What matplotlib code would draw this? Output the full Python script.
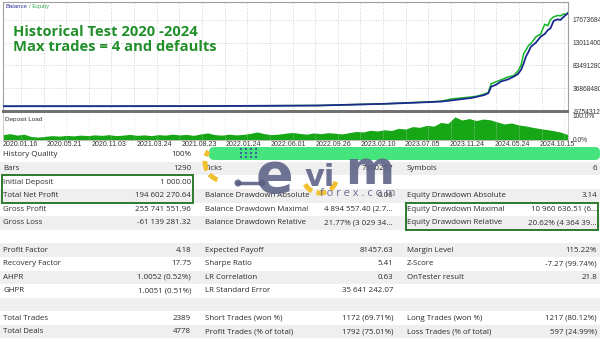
import numpy as np
import matplotlib
matplotlib.use("Agg")
import matplotlib.pyplot as plt
from matplotlib.patches import Rectangle, FancyBboxPatch, Arc, Circle

# x axis is in "date label" units (label k sits at x = k)
date_labels = ['2020.01.16', '2020.05.21', '2020.11.03', '2021.03.24', '2021.08.23',
               '2022.01.24', '2022.06.01', '2022.09.26', '2023.02.10', '2023.07.05',
               '2023.11.24', '2024.05.24', '2024.10.15']

curve_x = [-0.38, 1.88, 4.10, 6.67, 8.16, 8.76, 9.27, 9.42, 9.65, 9.87, 10.09, 10.24,
           10.38, 10.47, 10.53, 10.64, 10.75, 10.91, 11.04, 11.13, 11.20, 11.26, 11.31,
           11.37, 11.42, 11.53, 11.64, 11.73, 11.80, 11.86, 11.93, 12.02, 12.08, 12.15,
           12.20, 12.25]
# millions
balance = [0.001, 0.05, 0.3, 1.5, 5, 7, 9, 9.6, 12, 14.6, 17, 20,
           23, 26.8, 40, 44, 50.6, 55, 60.8, 66, 74.5, 88, 101.7,
           112, 122, 130, 142.6, 148, 156, 160, 175, 178, 176.7, 183,
           187, 190.4]
equity = [0.001, 0.05, 0.3, 1.5, 5, 7.5, 9.5, 10.5, 15, 17, 19, 21,
          25, 28, 46, 50, 54, 60, 63, 72, 84, 108, 115,
          125, 128, 142, 148, 168, 165, 178, 183, 186, 185, 189,
          188, 192]

deposit_load = [22, 26, 20, 24, 14, 12, 15, 18, 16, 19, 17, 20, 18, 21, 19, 22, 18, 20,
                23, 19, 21, 18, 22, 20, 24, 21, 23, 19, 25, 29, 22, 20, 24, 21, 23, 27,
                33, 26, 22, 24, 28, 31, 27, 24, 29, 26, 30, 28, 25, 30, 35, 33, 40, 37,
                42, 39, 48, 45, 55, 52, 60, 57, 72, 68, 95, 82, 88, 80, 86, 83, 74, 66,
                70, 62, 58, 52, 47, 43, 38, 32, 22]

y_tick_values = [-9754312, 36868480, 83491280, 130114000, 176736840]

# report table (14 rows, three label/value columns)
col1_labels = ['History Quality', 'Bars', 'Initial Deposit', 'Total Net Profit', 'Gross Profit',
               'Gross Loss', '', 'Profit Factor', 'Recovery Factor', 'AHPR', 'GHPR', '',
               'Total Trades', 'Total Deals']
col1_values = ['100%', '1290', '1 000.00', '194 602 270.64', '255 741 551.96',
               '-61 139 281.32', '', '4.18', '17.75', '1.0052 (0.52%)', '1.0051 (0.51%)', '',
               '2389', '4778']
col2_labels = ['', 'Ticks', '', 'Balance Drawdown Absolute', 'Balance Drawdown Maximal',
               'Balance Drawdown Relative', '', 'Expected Payoff', 'Sharpe Ratio',
               'LR Correlation', 'LR Standard Error', '', 'Short Trades (won %)',
               'Profit Trades (% of total)']
col2_values = ['', '7300257', '', '0.06', '4 894 557.40 (2.7...', '21.77% (3 029 34...', '',
               '81457.63', '5.41', '0.63', '35 641 242.07', '', '1172 (69.71%)', '1792 (75.01%)']
col3_labels = ['', 'Symbols', '', 'Equity Drawdown Absolute', 'Equity Drawdown Maximal',
               'Equity Drawdown Relative', '', 'Margin Level', 'Z-Score', 'OnTester result',
               '', '', 'Long Trades (won %)', 'Loss Trades (% of total)']
col3_values = ['', '6', '', '3.14', '10 960 636.51 (6...', '20.62% (4 364 39...', '',
               '115.22%', '-7.27 (99.74%)', '21.8', '', '', '1217 (80.12%)', '597 (24.99%)']

W, H = 600, 338
XLIM = (-0.38, 12.25)
fig = plt.figure(figsize=(6, 3.38), dpi=100)
fig.patch.set_facecolor('white')

# background / table layer in pixel coordinates
bg = fig.add_axes([0, 0, 1, 1])
bg.set_xlim(0, W)
bg.set_ylim(H, 0)
bg.axis('off')

row_h = 13.6
row0 = 155
txt = '#2b2b2b'
tfont = dict(family='Open Sans', size=5.7, color=txt, va='center')
for i in range(len(col1_labels)):
    yc = row0 + i * row_h
    if i % 2 == 1:
        bg.add_patch(Rectangle((0, yc - row_h / 2), W, row_h, color='#efefef', lw=0))
    bg.text(3, yc, col1_labels[i], ha='left', **tfont)
    bg.text(191, yc, col1_values[i], ha='right', **tfont)
    bg.text(205, yc, col2_labels[i], ha='left', **tfont)
    bg.text(393, yc, col2_values[i], ha='right', **tfont)
    bg.text(407, yc, col3_labels[i], ha='left', **tfont)
    bg.text(597, yc, col3_values[i], ha='right', **tfont)

box_c = '#2c7a2c'
bg.add_patch(Rectangle((2, row0 + 1.5 * row_h), 191, 2 * row_h, fill=False, ec=box_c, lw=1.4))
bg.add_patch(Rectangle((406, row0 + 3.5 * row_h), 192, 2 * row_h, fill=False, ec=box_c, lw=1.4))

# main balance / equity chart
ax = fig.add_axes([3 / W, 1 - 111 / H, 565 / W, 109 / H])
ax.set_xlim(*XLIM)
ax.set_ylim(y_tick_values[0] / 1e6, 213.5)
ax.plot(curve_x, equity, color='#14b428', lw=1.1, zorder=3)
ax.plot(curve_x, balance, color='#1b2a8c', lw=1.3, zorder=4)
ax.set_yticks(np.array(y_tick_values) / 1e6)
ax.set_yticklabels([str(v) for v in y_tick_values])
ax.yaxis.tick_right()
ax.tick_params(axis='y', length=0, pad=3.5, labelsize=4.8, labelcolor='#333333')
for lab in ax.get_yticklabels():
    lab.set_family('Liberation Sans')
grid_pos = np.arange(0.02, 12.25, 0.506)
ax.set_xticks(range(len(date_labels)))
ax.set_xticks(grid_pos, minor=True)
ax.tick_params(axis='x', which='both', length=0, labelbottom=False)
ax.grid(axis='y', which='major', ls=(0, (1, 2)), color='#c4c4c4', lw=0.6)
ax.grid(axis='x', which='minor', ls=(0, (1, 2)), color='#c4c4c4', lw=0.6)
for s in ['top', 'left', 'right']:
    ax.spines[s].set_color('#a0a0a0')
    ax.spines[s].set_linewidth(0.8)
ax.spines['bottom'].set_color('#707070')
ax.spines['bottom'].set_linewidth(1.4)

ax.text(0.004, 0.955, 'Balance', transform=ax.transAxes, fontsize=4.3,
        family='Liberation Sans', color='#333399', va='center')
ax.text(0.046, 0.955, '/ Equity', transform=ax.transAxes, fontsize=4.3,
        family='Liberation Sans', color='#33aa55', va='center')
ax.text(0.018, 0.655, 'Historical Test 2020 -2024\nMax trades = 4 and defaults',
        transform=ax.transAxes, family='Open Sans', fontweight='bold', fontsize=10.6,
        color='#22902a', va='center', ha='left', linespacing=1.12)

# deposit load panel
ax2 = fig.add_axes([3 / W, 1 - 140 / H, 565 / W, 28 / H])
load_x = np.linspace(XLIM[0], XLIM[1], len(deposit_load))
ax2.fill_between(load_x, 0, deposit_load, color='#16a616', lw=0)
ax2.set_xlim(*XLIM)
ax2.set_ylim(0, 115)
ax2.set_xticks(range(len(date_labels)))
ax2.set_xticklabels(date_labels)
ax2.set_xticks(grid_pos, minor=True)
ax2.tick_params(axis='x', which='both', length=0, pad=1, labelsize=5, labelcolor='#333333')
for lab in ax2.get_xticklabels():
    lab.set_family('Liberation Sans')
ax2.set_yticks([0, 100])
ax2.set_yticklabels(['0.0%', '100.0%'])
ax2.yaxis.tick_right()
ax2.tick_params(axis='y', length=0, pad=3.5, labelsize=4.8, labelcolor='#333333')
for lab in ax2.get_yticklabels():
    lab.set_family('Liberation Sans')
ax2.grid(axis='x', which='minor', ls=(0, (1, 2)), color='#d4d4d4', lw=0.5)
for s in ['bottom', 'left', 'right']:
    ax2.spines[s].set_color('#c0c0c0')
    ax2.spines[s].set_linewidth(0.6)
ax2.spines['top'].set_color('#707070')
ax2.spines['top'].set_linewidth(1.4)
ax2.text(0.004, 0.75, 'Deposit Load', transform=ax2.transAxes, fontsize=4.6,
         family='Liberation Sans', color='#333333', va='center')

# watermark overlay
ov = fig.add_axes([0, 0, 1, 1], zorder=10)
ov.set_xlim(0, W)
ov.set_ylim(H, 0)
ov.axis('off')
ov.patch.set_alpha(0)
ov.add_patch(FancyBboxPatch((209, 147), 391, 13, boxstyle='round,pad=0,rounding_size=5',
                            color='#45e47d', lw=0))
ov.add_patch(Arc((224, 162), 38, 38, theta1=110, theta2=215, color='#f0c030', lw=3.5,
                 ls=(0, (2, 1))))
ov.add_patch(Arc((320, 176), 34, 34, theta1=20, theta2=160, color='#f0c030', lw=3.5,
                 ls=(0, (2, 1))))
for cx in [241, 246, 251, 256]:
    for cy in [149, 153, 157]:
        ov.add_patch(Circle((cx, cy), 1.1, color='#3a5a9a', lw=0))
ov.plot([238, 262], [183, 183], color='#5b6185', lw=2.5, alpha=0.9)
ov.add_patch(Circle((238, 183), 3.5, color='#5b6185', alpha=0.9, lw=0))
ov.add_patch(Circle((262, 183), 3.5, color='#5b6185', alpha=0.9, lw=0))
wm = dict(color='#5b6185', alpha=0.88, fontweight='bold', family='DejaVu Sans',
          ha='center', va='baseline')
ov.text(274, 192, 'e', fontsize=40, **wm)
ov.text(320, 186, 'vi', fontsize=22, **wm)
ov.text(370, 184, 'm', fontsize=34, **wm)
ov.text(358, 194, 'f o r e x . c o m', fontsize=8, family='Open Sans', color='#5b6185',
        ha='center', va='center', alpha=0.9)

fig.savefig('out.png', dpi=100, facecolor='white')
